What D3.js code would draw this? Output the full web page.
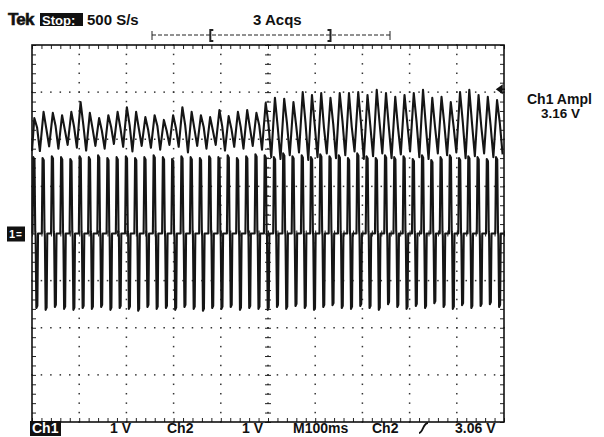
<!DOCTYPE html>
<html>
<head>
<meta charset="utf-8">
<script src="https://cdnjs.cloudflare.com/ajax/libs/d3/7.8.5/d3.min.js"></script>
<style>
  body { margin: 0; background: #fff; }
  svg { display: block; }
  text { font-family: "Liberation Sans", Arial, sans-serif; font-weight: bold; fill: #111; }
</style>
</head>
<body>
<div id="container"></div>
<script>
// per-cycle readings (volts, 1 V/div, both channels referenced to centre line)
var ch1Peak = [2.45, 2.58, 2.56, 2.51, 2.58, 2.79, 2.56, 2.45, 2.51, 2.58,
  2.68, 2.58, 2.47, 2.51, 2.41, 2.51, 2.68, 2.58, 2.51, 2.47,
  2.62, 2.49, 2.58, 2.62, 2.56, 2.77, 2.88, 2.86, 2.79, 3.00,
  2.94, 2.98, 2.88, 2.98, 2.98, 3.00, 2.94, 3.05, 2.98, 2.90,
  2.94, 2.98, 3.05, 2.88, 2.90, 2.79, 3.00, 3.05, 2.94, 2.90, 2.83];
var ch1Shoulder = [2.25, 2.22, 2.28, 2.20, 2.26, 2.30, 2.22, 2.18, 2.26, 2.24,
  2.30, 2.22, 2.20, 2.28, 2.18, 2.24, 2.30, 2.22, 2.26, 2.18,
  2.28, 2.22, 2.26, 2.24, 2.30, 2.32, 2.26, 2.34, 2.28, 2.36,
  2.30, 2.24, 2.32, 2.38, 2.26, 2.34, 2.30, 2.36, 2.28, 2.24,
  2.34, 2.38, 2.30, 2.26, 2.32, 2.28, 2.36, 2.32, 2.26, 2.30, 2.34];
var ch1Trough = [1.75, 1.85, 1.80, 1.88, 1.82, 1.76, 1.86, 1.80, 1.90, 1.84,
  1.74, 1.86, 1.82, 1.78, 1.88, 1.84, 1.72, 1.86, 1.80, 1.88,
  1.76, 1.84, 1.80, 1.86, 1.78, 1.62, 1.58, 1.66, 1.72, 1.56,
  1.62, 1.70, 1.60, 1.66, 1.74, 1.58, 1.64, 1.70, 1.60, 1.68,
  1.74, 1.62, 1.58, 1.70, 1.66, 1.72, 1.60, 1.64, 1.70, 1.62, 1.68];
var ch2Peak = [1.62, 1.60, 1.64, 1.62, 1.58, 1.64, 1.62, 1.66, 1.60, 1.62,
  1.64, 1.60, 1.62, 1.66, 1.62, 1.58, 1.64, 1.62, 1.60, 1.64,
  1.62, 1.66, 1.60, 1.64, 1.68, 1.66, 1.62, 1.70, 1.64, 1.66,
  1.62, 1.68, 1.64, 1.66, 1.60, 1.70, 1.64, 1.60, 1.66, 1.62,
  1.64, 1.58, 1.66, 1.56, 1.62, 1.66, 1.60, 1.64, 1.62, 1.58, 1.62];
var ch2Trough = [-1.58, -1.62, -1.56, -1.60, -1.62, -1.58, -1.60, -1.56, -1.62, -1.58,
  -1.60, -1.64, -1.56, -1.60, -1.58, -1.62, -1.56, -1.60, -1.64, -1.58,
  -1.60, -1.56, -1.62, -1.58, -1.60, -1.62, -1.56, -1.60, -1.54, -1.58,
  -1.62, -1.56, -1.52, -1.58, -1.60, -1.54, -1.58, -1.62, -1.50, -1.56,
  -1.60, -1.54, -1.58, -1.48, -1.56, -1.60, -1.52, -1.58, -1.54, -1.50, -1.56];

var timeSpan = 1000;          // 10 div x 100 ms
var cycles = ch2Peak.length;
var triggerLevel = 3.06;

var headerLeft = ["Tek", "Stop:", "500 S/s"];
var headerMid = "3 Acqs";
var readout = ["Ch1 Ampl", "3.16 V"];
var footer = ["Ch1", "1 V", "Ch2", "1 V", "M100ms", "Ch2", "3.06 V"];

var W = 604, H = 437;
var svg = d3.select("#container").append("svg")
  .attr("width", W).attr("height", H);

var x = d3.scaleLinear().domain([0, timeSpan]).range([32, 504]);
var y = d3.scaleLinear().domain([-4, 4]).range([422, 45]);
var period = timeSpan / cycles;

// graticule dots
var grid = svg.append("g").attr("fill", "#333");
var xMinor = d3.range(0, timeSpan + 1, 20);
var yMinor = d3.range(-4, 4.001, 0.2);
[100, 200, 300, 400, 600, 700, 800, 900].forEach(function (t) {
  grid.selectAll(null).data(yMinor).enter().append("rect")
    .attr("x", x(t) - 0.75).attr("y", function (d) { return y(d) - 0.75; })
    .attr("width", 1.5).attr("height", 1.5);
});
[-3, -2, -1, 1, 2, 3].forEach(function (v) {
  grid.selectAll(null).data(xMinor).enter().append("rect")
    .attr("x", function (d) { return x(d) - 0.75; }).attr("y", y(v) - 0.75)
    .attr("width", 1.5).attr("height", 1.5);
});

// border and centre ticks via axes
function bare(ax) {
  return function (g) {
    g.call(ax);
    g.select(".domain").remove();
    g.selectAll(".tick line").attr("stroke", "#222");
    g.selectAll("text").remove();
  };
}
var xTickVals = xMinor, yTickVals = yMinor;
svg.append("g").attr("transform", "translate(0,45)")
  .call(bare(d3.axisTop(x).tickValues(xTickVals).tickSize(-4)));
svg.append("g").attr("transform", "translate(0,422)")
  .call(bare(d3.axisBottom(x).tickValues(xTickVals).tickSize(-4)));
svg.append("g").attr("transform", "translate(32,0)")
  .call(bare(d3.axisLeft(y).tickValues(yTickVals).tickSize(-4)));
svg.append("g").attr("transform", "translate(504,0)")
  .call(bare(d3.axisRight(y).tickValues(yTickVals).tickSize(-4)));
svg.append("g").attr("transform", "translate(0," + y(0) + ")")
  .call(bare(d3.axisTop(x).tickValues(xTickVals).tickSize(3)));
svg.append("g").attr("transform", "translate(0," + y(0) + ")")
  .call(bare(d3.axisBottom(x).tickValues(xTickVals).tickSize(3)));
svg.append("g").attr("transform", "translate(" + x(500) + ",0)")
  .call(bare(d3.axisLeft(y).tickValues(yTickVals).tickSize(3)));
svg.append("g").attr("transform", "translate(" + x(500) + ",0)")
  .call(bare(d3.axisRight(y).tickValues(yTickVals).tickSize(3)));
grid.selectAll(null).data(yMinor).enter().append("rect")
  .attr("x", x(500) - 0.75).attr("y", function (d) { return y(d) - 0.75; })
  .attr("width", 1.5).attr("height", 1.5);

svg.append("rect")
  .attr("x", x(0)).attr("y", y(4))
  .attr("width", x(timeSpan) - x(0)).attr("height", y(-4) - y(4))
  .attr("fill", "none").attr("stroke", "#111").attr("stroke-width", 1.6);

// traces
var ch1Pts = [[0, ch1Trough[0]]];
ch1Peak.forEach(function (p, i) {
  var t0 = i * period;
  ch1Pts.push([t0 + 0.25 * period, p]);
  ch1Pts.push([t0 + 0.55 * period, ch1Shoulder[i]]);
  ch1Pts.push([t0 + 0.85 * period, ch1Trough[i]]);
});

var ch2Pts = [[0, 0]];
ch2Peak.forEach(function (p, i) {
  var t0 = i * period, q = ch2Trough[i];
  ch2Pts.push([t0 + 0.06 * period, 0]);
  ch2Pts.push([t0 + 0.14 * period, p]);
  ch2Pts.push([t0 + 0.27 * period, p * 0.97]);
  ch2Pts.push([t0 + 0.35 * period, 0.05]);
  ch2Pts.push([t0 + 0.39 * period, -0.05]);
  ch2Pts.push([t0 + 0.47 * period, q]);
  ch2Pts.push([t0 + 0.58 * period, q * 0.97]);
  ch2Pts.push([t0 + 0.65 * period, 0]);
});
ch2Pts.push([timeSpan, 0]);

var line = d3.line()
  .x(function (d) { return x(Math.min(d[0], timeSpan)); })
  .y(function (d) { return y(d[1]); });

svg.append("path").datum(ch2Pts).attr("d", line)
  .attr("fill", "none").attr("stroke", "#151515").attr("stroke-width", 2.1)
  .attr("stroke-linejoin", "round");
svg.append("path").datum(ch1Pts).attr("d", line)
  .attr("fill", "none").attr("stroke", "#151515").attr("stroke-width", 2.1)
  .attr("stroke-linejoin", "round");

// record bar
var rec = d3.scaleLinear().domain([0, 1]).range([152, 390]);
var bar = svg.append("g").attr("stroke", "#222").attr("fill", "none");
bar.append("line").attr("x1", rec(0)).attr("x2", rec(1)).attr("y1", 35).attr("y2", 35)
  .attr("stroke-dasharray", "4,2");
bar.append("line").attr("x1", rec(0)).attr("x2", rec(0)).attr("y1", 31).attr("y2", 40);
bar.append("line").attr("x1", rec(1)).attr("x2", rec(1)).attr("y1", 31).attr("y2", 40);
bar.append("path").attr("stroke-width", 2)
  .attr("d", "M" + (rec(0.245) + 3) + ",30H" + rec(0.245) + "V41H" + (rec(0.245) + 3));
bar.append("path").attr("stroke-width", 2)
  .attr("d", "M" + (rec(0.75) - 3) + ",30H" + rec(0.75) + "V41H" + (rec(0.75) - 3));

// header
svg.append("text").attr("x", 8).attr("y", 25).style("font-size", "17px")
  .style("font-weight", 900).attr("stroke", "#111").attr("stroke-width", 0.6)
  .attr("letter-spacing", -0.8).text(headerLeft[0]);
svg.append("rect").attr("x", 40).attr("y", 13).attr("width", 43).attr("height", 13).attr("fill", "#111");
svg.append("text").attr("x", 42).attr("y", 24.5).style("font-size", "13px")
  .style("fill", "#fff").text(headerLeft[1]);
svg.append("text").attr("x", 87).attr("y", 25).style("font-size", "15px").text(headerLeft[2]);
svg.append("text").attr("x", 253).attr("y", 25).style("font-size", "15px").text(headerMid);

// readout
svg.append("text").attr("x", 527).attr("y", 104).style("font-size", "14px").text(readout[0]);
svg.append("text").attr("x", 541).attr("y", 118).style("font-size", "13.5px").text(readout[1]);

// trigger level marker
var ty = y(triggerLevel);
svg.append("path")
  .attr("d", "M497," + ty + "L502," + (ty - 3.5) + "L502," + (ty + 3.5) + "Z M500," + ty + "H505")
  .attr("fill", "#111").attr("stroke", "#111").attr("stroke-width", 1.5);

// ground marker
var gy = y(0);
svg.append("rect").attr("x", 7).attr("y", gy - 7).attr("width", 18).attr("height", 15).attr("fill", "#111");
svg.append("text").attr("x", 9).attr("y", gy + 4).style("font-size", "11px")
  .style("fill", "#fff").text("1");
svg.append("text").attr("x", 16).attr("y", gy + 4).style("font-size", "10px")
  .style("fill", "#fff").text("=");

// footer
var fy = 433;
svg.append("rect").attr("x", 30).attr("y", 421).attr("width", 31).attr("height", 15).attr("fill", "#111");
svg.append("text").attr("x", 32).attr("y", fy).style("font-size", "14px").style("fill", "#fff").text(footer[0]);
var footX = [null, 110, 167, 242, 293, 372, 455];
footer.forEach(function (f, i) {
  if (i === 0) return;
  svg.append("text").attr("x", footX[i]).attr("y", fy).style("font-size", "14px").text(f);
});
// trigger slope glyph
svg.append("path").attr("d", "M419,433 C423,433 423,423 428,423")
  .attr("fill", "none").attr("stroke", "#111").attr("stroke-width", 1.8);
</script>
</body>
</html>
